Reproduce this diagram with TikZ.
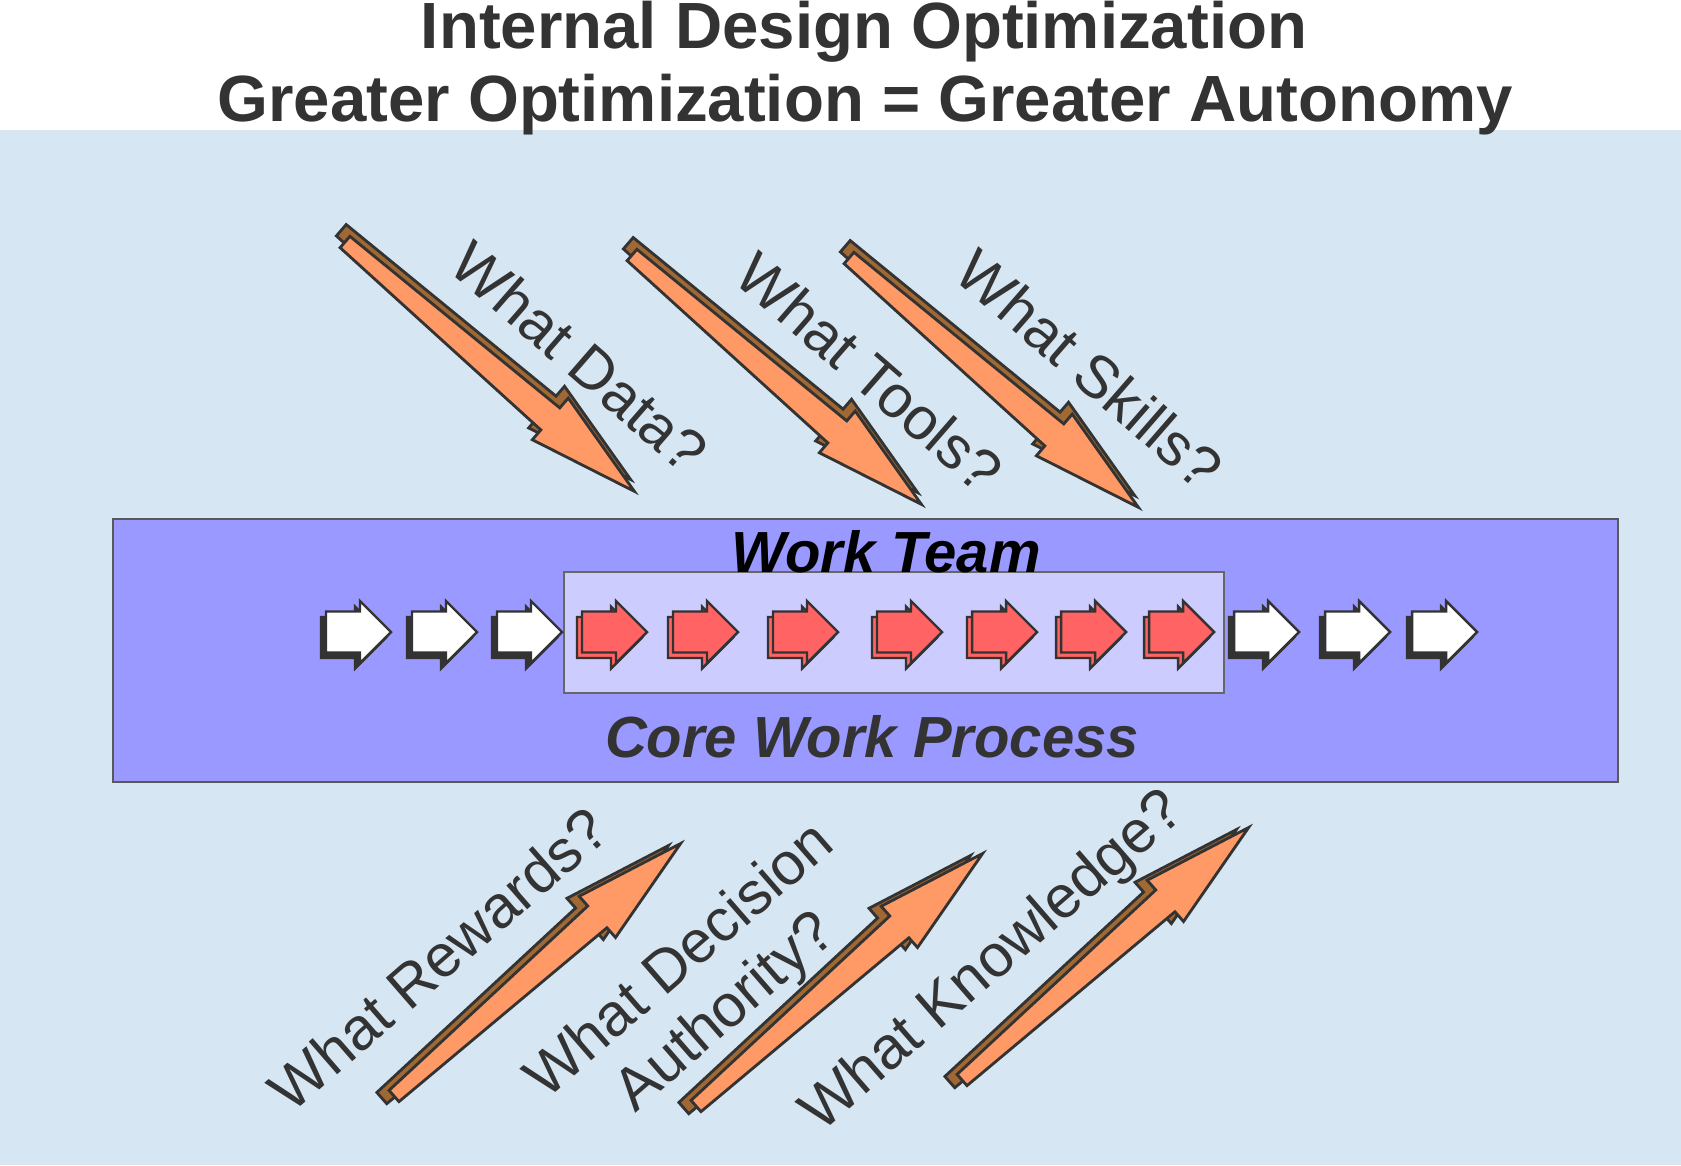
\documentclass[tikz,border=0pt]{standalone}
\usepackage{fontspec}
\setmainfont{Liberation Sans}
\usepackage{tikz}

\definecolor{skyback}{RGB}{214,230,242}
\definecolor{teamblue}{RGB}{153,153,255}
\definecolor{coreblue}{RGB}{204,204,255}
\definecolor{arroworange}{RGB}{255,153,102}
\definecolor{arrowbrown}{RGB}{160,104,50}
\definecolor{stepred}{RGB}{255,99,99}
\definecolor{inkgray}{RGB}{51,51,51}

\tikzset{
  headline/.style={text=inkgray, anchor=base, font=\fontsize{18.6}{22}\selectfont\bfseries},
  teamtext/.style={anchor=base, font=\fontsize{16.5}{20}\selectfont\bfseries\itshape},
  question/.style={text=inkgray, align=center, font=\fontsize{17}{19.5}\selectfont},
  stepline/.style={draw=inkgray, line width=0.7pt, line join=miter},
  arrowline/.style={draw=inkgray, line width=0.8pt, line join=miter},
  bigarrow/.pic={
    % back copy, brown
    \filldraw[arrowline, fill=arrowbrown, shift={(-0.105,0.065)}]
      (0,-0.075) -- (2.71,-0.145) -- (2.71,-0.275) -- (3.82,0)
      -- (2.71,0.275) -- (2.71,0.145) -- (0,0.075) -- cycle;
    % front, orange
    \filldraw[arrowline, fill=arroworange]
      (0,-0.075) -- (2.71,-0.145) -- (2.71,-0.275) -- (3.82,0)
      -- (2.71,0.275) -- (2.71,0.145) -- (0,0.075) -- cycle;
  }
}

\begin{document}
\begin{tikzpicture}
    \useasboundingbox (0,0) rectangle (16.81,11.65);

    % 1. Background: white title strip, light blue panel
    \fill[white] (0,0) rectangle (16.81,11.65);
    \fill[skyback] (0,0) rectangle (16.81,10.35);

    % 2. Title
    \node[headline] (title1) at (8.64,11.16) {Internal Design Optimization};
    \node[headline] (title2) at (8.65,10.44) {Greater Optimization = Greater Autonomy};

    % 3. Work team band and core process box
    \filldraw[fill=teamblue, draw=gray!70!black, line width=0.4pt] (1.13,3.83) rectangle (16.18,6.46);
    \filldraw[fill=coreblue, draw=gray!80!black, line width=0.4pt] (5.64,4.72) rectangle (12.24,5.93);
    \node[teamtext, text=black] (team) at (8.86,5.93) {Work Team};
    \node[teamtext, text=inkgray] (core) at (8.72,4.08) {Core Work Process};

    % 4. Process steps (tip x / front fill / back fill)
    \foreach \t/\f/\s in {3.91/white/inkgray, 4.77/white/inkgray, 5.62/white/inkgray,
                          6.47/stepred/stepred, 7.38/stepred/stepred, 8.38/stepred/stepred,
                          9.42/stepred/stepred, 10.37/stepred/stepred, 11.26/stepred/stepred,
                          12.14/stepred/stepred, 12.99/white/inkgray, 13.90/white/inkgray,
                          14.77/white/inkgray}
    {
      \filldraw[stepline, fill=\s, shift={(\t-0.05,5.275)}]
        (-0.65,-0.205) -- (-0.31,-0.205) -- (-0.31,-0.31) -- (0,0)
        -- (-0.31,0.31) -- (-0.31,0.205) -- (-0.65,0.205) -- cycle;
      \filldraw[stepline, fill=\f, shift={(\t,5.33)}]
        (-0.65,-0.205) -- (-0.31,-0.205) -- (-0.31,-0.31) -- (0,0)
        -- (-0.31,0.31) -- (-0.31,0.205) -- (-0.65,0.205) -- cycle;
    }

    % 5. Inputs from above and below
    \foreach \x/\y in {3.45/9.23, 6.32/9.10, 8.49/9.07}
      \pic[rotate=-40.75] at (\x,\y) {bigarrow};
    \foreach \x/\y in {3.94/0.69, 6.96/0.59, 9.62/0.85}
      \pic[rotate=41.38] at (\x,\y) {bigarrow};

    % 6. Questions
    \node[question, rotate=-41] (qdata)   at (5.80,8.08)  {What Data?};
    \node[question, rotate=-41] (qtools)  at (8.70,7.93)  {What Tools?};
    \node[question, rotate=-41] (qskills) at (10.90,7.96) {What Skills?};
    \node[question, rotate=41] (qrewards)   at (4.38,2.06) {What Rewards?};
    \node[question, rotate=41] (qdecision)  at (7.04,1.77) {What Decision\\Authority?};
    \node[question, rotate=41] (qknowledge) at (9.94,2.02) {What Knowledge?};
\end{tikzpicture}
\end{document}
